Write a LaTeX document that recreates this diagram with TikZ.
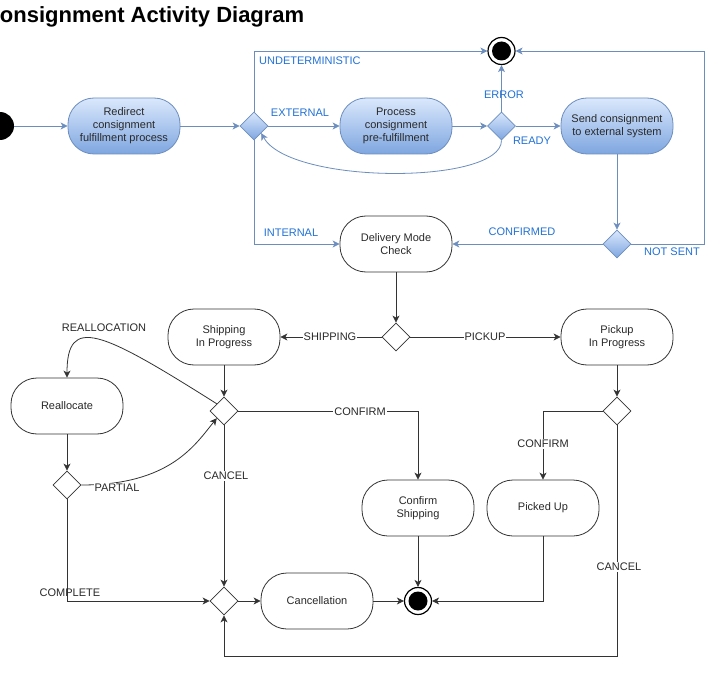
\documentclass[tikz,border=0pt]{standalone}
\usepackage{fontspec}
\setmainfont{Liberation Sans}
\usetikzlibrary{arrows.meta,shapes.geometric}
\definecolor{bstroke}{HTML}{6C8EBF}
\definecolor{btext}{HTML}{2272D6}
\definecolor{blight}{HTML}{DAE8FC}
\definecolor{bdark}{HTML}{7EA6E0}
\definecolor{ink}{HTML}{333333}
\tikzset{
  act/.style={rectangle, rounded corners=26pt, minimum width=112pt, minimum height=56pt,
    align=center, font=\fontsize{11}{13}\selectfont, inner sep=2pt, text=ink!80!black},
  actb/.style={act, draw=bstroke, line width=0.8pt, top color=blight, bottom color=bdark},
  actw/.style={act, draw=ink, fill=white, line width=0.8pt},
  dec/.style={diamond, minimum width=28pt, minimum height=28pt, inner sep=0pt},
  decb/.style={dec, draw=bstroke, line width=0.8pt, top color=blight, bottom color=bdark},
  decw/.style={dec, draw=ink, fill=white, line width=0.8pt},
  finalring/.style={circle, draw=black, line width=1.2pt, fill=white, minimum size=27pt, inner sep=0pt},
  finaldot/.style={circle, fill=black, minimum size=19pt, inner sep=0pt},
  startdot/.style={circle, fill=black, minimum size=28pt, inner sep=0pt},
  tip/.style={-{Stealth[length=7pt,width=7pt,inset=2pt]}},
  blink/.style={draw=bstroke, line width=0.8pt, tip},
  klink/.style={draw=ink, line width=0.8pt, tip},
  blab/.style={text=btext, font=\fontsize{11}{13}\selectfont, inner sep=1pt},
  klab/.style={text=ink!80!black, font=\fontsize{11}{13}\selectfont, inner sep=1pt},
  klabf/.style={klab, fill=white},
}
\begin{document}
\begin{tikzpicture}[x=1pt, y=-1pt]
\useasboundingbox (0,0) rectangle (720,695);
\fill[white] (0,0) rectangle (720,695);

\node[anchor=base east, inner sep=0pt, font=\fontsize{22}{25}\selectfont\bfseries] (title) at (304.5,23) {Consignment Activity Diagram};

% upper (blue) part
\node[startdot] (start) at (0,126) {};
\node[actb] (redirect) at (124,126) {Redirect\\consignment\\fulfillment process};
\node[decb] (d1) at (254,126) {};
\node[actb] (process) at (396,126) {Process\\consignment\\pre-fulfillment};
\node[decb] (d2) at (501.5,126) {};
\node[actb] (send) at (617,126) {Send consignment\\to external system};
\node[finalring] (f1) at (501.5,51) {};
\node[finaldot] (f1dot) at (f1) {};
\node[decb] (d3) at (617,244) {};
\node[actw] (delivery) at (396,244) {Delivery Mode\\Check};

% lower (black) part
\node[decw] (d4) at (396,337) {};
\node[actw] (shipping) at (224,337) {Shipping\\In Progress};
\node[actw] (pickup) at (617,337) {Pickup\\In Progress};
\node[decw] (d6) at (224,411) {};
\node[decw] (d5) at (617,411) {};
\node[actw] (realloc) at (67,406) {Reallocate};
\node[decw] (d8) at (67,485) {};
\node[actw] (confship) at (418,508) {Confirm\\Shipping};
\node[actw] (picked) at (543,508) {Picked Up};
\node[decw] (d7) at (224,601) {};
\node[actw] (cancel) at (317,601) {Cancellation};
\node[finalring] (f2) at (418,601) {};
\node[finaldot] (f2dot) at (f2) {};

% blue connectors
\draw[blink] (start) -- (redirect);
\draw[blink] (redirect) -- (d1);
\draw[blink] (d1) -- (process);
\draw[blink] (process) -- (d2);
\draw[blink] (d2) -- (send);
\draw[blink] (d2) -- (f1);
\draw[blink] (d1.north) |- (f1.west);
\draw[blink] (d2.south) .. controls (501.5,185) and (290,185) .. (d1.south east);
\draw[blink] (send) -- (d3);
\draw[blink] (d3) -- (delivery);
\draw[blink] (d3.east) -- ++(73,0) |- (f1.east);
\draw[blink] (d1.south) |- (delivery.west);

% black connectors
\draw[klink] (delivery) -- (d4);
\draw[klink] (d4) -- (shipping);
\draw[klink] (d4) -- (pickup);
\draw[klink] (shipping) -- (d6);
\draw[klink] (pickup) -- (d5);
\draw[klink] (d6.east) -| (confship.north);
\draw[klink] (d5.west) -| (picked.north);
\draw[klink] (d6) -- (d7);
\draw[klink] (d6.north west) .. controls (100,330) and (67,315) .. (realloc.north);
\draw[klink] (realloc) -- (d8);
\draw[klink] (d8.east) .. controls (170,485) and (195,445) .. (d6.south west);
\draw[klink] (d8.south) |- (d7.west);
\draw[klink] (d7) -- (cancel);
\draw[klink] (cancel) -- (f2);
\draw[klink] (confship) -- (f2);
\draw[klink] (picked.south) |- (f2.east);
\draw[klink] (d5.south) -- ++(0,231) -| (d7.south);

% blue labels
\node[blab, anchor=west] (lund) at (258,61) {UNDETERMINISTIC};
\node[blab] (lext) at (300,113) {EXTERNAL};
\node[blab] (lerr) at (504,95) {ERROR};
\node[blab] (lrdy) at (532,141) {READY};
\node[blab] (lconfd) at (522,232) {CONFIRMED};
\node[blab] (lns) at (672,252) {NOT SENT};
\node[blab] (lint) at (291,233) {INTERNAL};

% black labels
\node[klabf] (lship) at (330,337) {SHIPPING};
\node[klabf] (lpick) at (485,337) {PICKUP};
\node[klabf] (lconf1) at (360,412) {CONFIRM};
\node[klabf] (lconf2) at (543,444) {CONFIRM};
\node[klabf] (lcan1) at (226,476) {CANCEL};
\node[klabf] (lcan2) at (619,567) {CANCEL};
\node[klabf] (lpart) at (117,488) {PARTIAL};
\node[klab] (lreal) at (104,328) {REALLOCATION};
\node[klab] (lcomp) at (70,593) {COMPLETE};
\end{tikzpicture}
\end{document}
